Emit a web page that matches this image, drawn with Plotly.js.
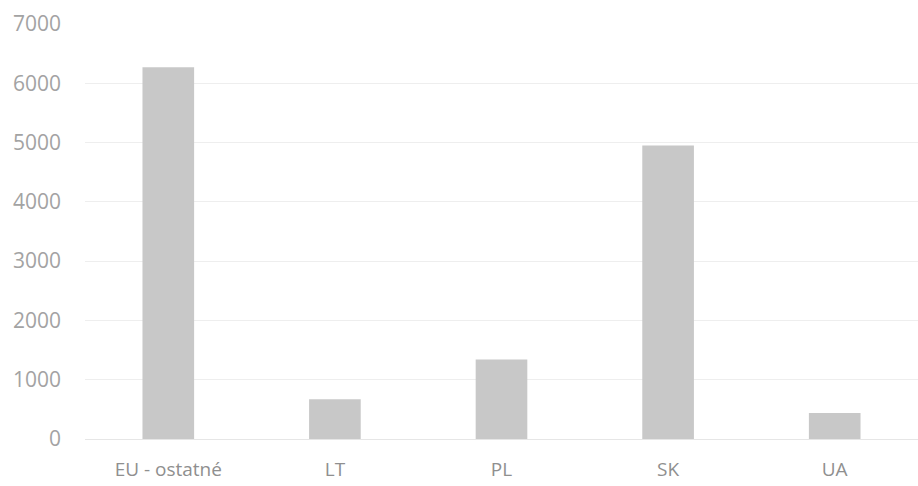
<!DOCTYPE html>
<html>
<head>
<meta charset="utf-8">
<script src="https://cdn.plot.ly/plotly-3.0.1.min.js"></script>
<style>html,body{margin:0;padding:0;background:#fff;}#chart{width:918px;height:486px;}</style>
</head>
<body>
<div id="chart"></div>
<script>
const categories = ["EU - ostatné", "LT", "PL", "SK", "UA"];
const values = [6270, 670, 1340, 4950, 440];
const yTicks = [0, 1000, 2000, 3000, 4000, 5000, 6000, 7000];

const trace = {
  type: "bar",
  x: categories,
  y: values,
  marker: {color: "#c8c8c8"},
  hoverinfo: "x+y"
};

const layout = {
  width: 918,
  height: 486,
  margin: {l: 85, r: 0, t: 24, b: 47},
  paper_bgcolor: "#ffffff",
  plot_bgcolor: "#ffffff",
  bargap: 0.69,
  showlegend: false,
  font: {family: "Open Sans, sans-serif", color: "#9a9a9a", size: 15},
  xaxis: {
    type: "category",
    showgrid: false,
    zeroline: false,
    showline: false,
    ticks: "",
    tickfont: {size: 19, color: "#8f8f8f"},
    ticklabelstandoff: 17
  },
  yaxis: {
    range: [0, 7000],
    tickvals: yTicks,
    ticktext: yTicks.map(String),
    showgrid: true,
    gridcolor: "#eeeeee",
    gridwidth: 1,
    zeroline: true,
    zerolinecolor: "#e6e6e6",
    showline: false,
    ticks: "",
    tickfont: {size: 21, color: "#a3a3a3"},
    ticklabelstandoff: 23
  }
};

Plotly.newPlot("chart", [trace], layout, {displayModeBar: false, staticPlot: true});
</script>
</body>
</html>
